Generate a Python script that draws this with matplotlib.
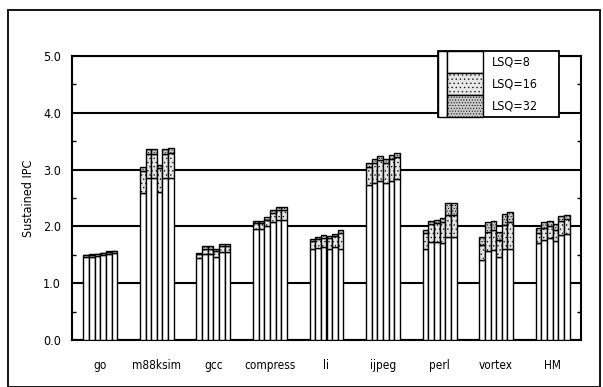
import matplotlib
matplotlib.use("Agg")
import matplotlib.pyplot as plt
from matplotlib.patches import Rectangle
import numpy as np

benchmarks = ["go", "m88ksim", "gcc", "compress", "li", "ijpeg", "perl", "vortex", "HM"]
series_labels = ["LSQ=8", "LSQ=16", "LSQ=32"]

# Sustained IPC per benchmark, six machine configurations each.
# Cumulative heights: LSQ=8, LSQ=16, LSQ=32.
ipc_lsq8 = [
    [1.46, 1.47, 1.48, 1.50, 1.52, 1.53],
    [2.58, 2.85, 2.85, 2.60, 2.85, 2.86],
    [1.45, 1.52, 1.52, 1.47, 1.55, 1.55],
    [1.95, 1.95, 2.00, 2.08, 2.11, 2.11],
    [1.60, 1.62, 1.63, 1.61, 1.64, 1.60],
    [2.73, 2.76, 2.80, 2.76, 2.80, 2.84],
    [1.61, 1.73, 1.73, 1.70, 1.82, 1.82],
    [1.41, 1.56, 1.58, 1.46, 1.61, 1.60],
    [1.70, 1.76, 1.80, 1.74, 1.85, 1.86],
]
ipc_lsq16 = [
    [1.49, 1.50, 1.51, 1.53, 1.55, 1.56],
    [2.98, 3.28, 3.28, 3.02, 3.28, 3.30],
    [1.51, 1.61, 1.61, 1.56, 1.65, 1.65],
    [2.06, 2.06, 2.12, 2.24, 2.29, 2.29],
    [1.74, 1.77, 1.80, 1.79, 1.83, 1.89],
    [3.05, 3.11, 3.17, 3.12, 3.18, 3.22],
    [1.88, 2.04, 2.06, 2.08, 2.20, 2.20],
    [1.67, 1.91, 1.94, 1.76, 2.02, 2.08],
    [1.89, 1.97, 2.00, 1.94, 2.10, 2.13],
]
ipc_lsq32 = [
    [1.50, 1.51, 1.52, 1.54, 1.57, 1.57],
    [3.05, 3.36, 3.36, 3.08, 3.36, 3.38],
    [1.54, 1.65, 1.65, 1.60, 1.69, 1.69],
    [2.10, 2.10, 2.17, 2.29, 2.34, 2.34],
    [1.78, 1.81, 1.84, 1.83, 1.87, 1.94],
    [3.12, 3.18, 3.24, 3.19, 3.26, 3.29],
    [1.94, 2.10, 2.12, 2.14, 2.41, 2.41],
    [1.81, 2.07, 2.10, 1.91, 2.22, 2.25],
    [1.98, 2.07, 2.10, 2.05, 2.18, 2.20],
]

fills = ["white", "#e6e6e6", "#c8c8c8"]
hatches = [None, "....", "......"]

plt.rcParams["hatch.linewidth"] = 0.4
plt.rcParams["hatch.color"] = "#777777"
narrow = dict(family="DejaVu Sans", stretch="condensed")

fig = plt.figure(figsize=(6.03, 3.87), dpi=100)
fig.patch.set_facecolor("white")

# outer frame around the whole figure
fig.patches.append(Rectangle((8 / 603, 0.0), 592 / 603, 1 - 10 / 387,
                             transform=fig.transFigure, fill=False,
                             edgecolor="black", linewidth=1.3))

ax = fig.add_axes([72 / 603, 1 - 340 / 387, 509 / 603, 284 / 387])

n_cfg = 6
bar_w = 0.1
x = np.arange(len(benchmarks))
lsq8 = np.array(ipc_lsq8)
lsq16 = np.array(ipc_lsq16)
lsq32 = np.array(ipc_lsq32)

for k in range(n_cfg):
    pos = x + (k - (n_cfg - 1) / 2) * bar_w
    lows = [np.zeros(len(benchmarks)), lsq8[:, k], lsq16[:, k]]
    highs = [lsq8[:, k], lsq16[:, k], lsq32[:, k]]
    for s in range(3):
        ax.bar(pos, highs[s] - lows[s], bottom=lows[s], width=bar_w,
               color=fills[s], hatch=hatches[s], edgecolor="black",
               linewidth=1.0, zorder=3)

ax.set_xlim(-0.5, len(benchmarks) - 0.5)
ax.set_ylim(0, 5.0)
ax.set_yticks(np.arange(0, 5.01, 1.0))
ax.set_yticklabels([f"{v:.1f}" for v in np.arange(0, 5.01, 1.0)],
                   fontsize=9, **narrow)
ax.set_yticks(np.arange(0.5, 5.0, 1.0), minor=True)
ax.tick_params(axis="y", which="major", length=0, pad=8)
ax.tick_params(axis="y", which="minor", length=3, width=1.0, direction="in",
               left=True, right=True)
ax.set_xticks(x)
ax.set_xticklabels(benchmarks, fontsize=8.5, **narrow)
ax.tick_params(axis="x", length=0, pad=14)
ax.grid(axis="y", which="major", color="black", linewidth=1.5, zorder=1)
for sp in ax.spines.values():
    sp.set_linewidth(1.5)
ax.set_ylabel("Sustained IPC", fontsize=9, labelpad=6, **narrow)

# legend panel drawn as a small table of swatches
lx0, lx1, lx2, lx3 = 438 / 603, 447 / 603, 483 / 603, 559 / 603
ly_top = 1 - 51 / 387
row_h = 22 / 387
tr = fig.transFigure
fig.patches.append(Rectangle((lx0, ly_top - 3 * row_h), lx3 - lx0, 3 * row_h,
                             transform=tr, facecolor="white", edgecolor="black",
                             linewidth=1.3, zorder=5))
fig.patches.append(Rectangle((lx0, ly_top - 3 * row_h), lx1 - lx0, 3 * row_h,
                             transform=tr, facecolor="white", edgecolor="black",
                             linewidth=1.0, zorder=6))
for i, lab in enumerate(series_labels):
    y0 = ly_top - (i + 1) * row_h
    fig.patches.append(Rectangle((lx1, y0), lx2 - lx1, row_h, transform=tr,
                                 facecolor=fills[i], hatch=hatches[i],
                                 edgecolor="black", linewidth=1.0, zorder=6))
    fig.text(lx2 + 9 / 603, y0 + row_h / 2, lab, fontsize=9, va="center",
             ha="left", zorder=7, **narrow)

fig.savefig("out.png", dpi=100, facecolor="white")
